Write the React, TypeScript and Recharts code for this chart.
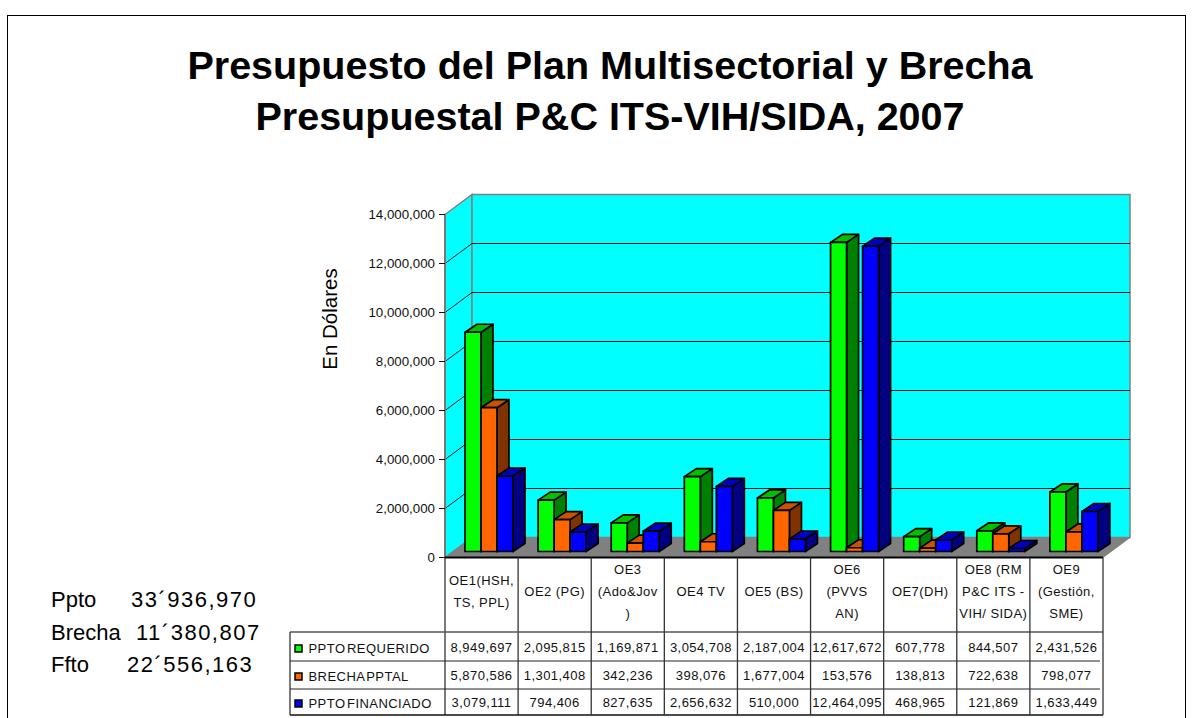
import React from 'react';
import { Bar, BarChart, CartesianGrid, XAxis, YAxis } from 'recharts';

const categories = ['OE1', 'OE2', 'OE3', 'OE4', 'OE5', 'OE6', 'OE7', 'OE8', 'OE9'];
const categoryLines = [
  ['OE1(HSH,', 'TS, PPL)'],
  ['OE2 (PG)'],
  ['OE3', '(Ado&Jov', ')'],
  ['OE4 TV'],
  ['OE5 (BS)'],
  ['OE6', '(PVVS', 'AN)'],
  ['OE7(DH)'],
  ['OE8 (RM', 'P&C ITS -', 'VIH/ SIDA)'],
  ['OE9', '(Gestión,', 'SME)'],
];
const requerido = [8949697, 2095815, 1169871, 3054708, 2187004, 12617672, 607778, 844507, 2431526];
const brecha = [5870586, 1301408, 342236, 398076, 1677004, 153576, 138813, 722638, 798077];
const financiado = [3079111, 794406, 827635, 2656632, 510000, 12464095, 468965, 121869, 1633449];
const yTicks = [0, 2000000, 4000000, 6000000, 8000000, 10000000, 12000000, 14000000];
const titleLines = ['Presupuesto del Plan Multisectorial y Brecha', 'Presupuestal P&C ITS-VIH/SIDA, 2007'];
const summary = [
  ['Ppto', '33´936,970', 80],
  ['Brecha', '11´380,807', 85],
  ['Ffto', '22´556,163', 76],
];

const series = [
  { key: 'requerido', name: 'PPTO REQUERIDO', values: requerido, front: '#00ff00', side: '#008000', top: '#00c000' },
  { key: 'brecha', name: 'BRECHA PPTAL', values: brecha, front: '#ff6600', side: '#803300', top: '#cc5200' },
  { key: 'financiado', name: 'PPTO FINANCIADO', values: financiado, front: '#0000ff', side: '#000080', top: '#0000c0' },
];

const chartData = categories.map((name, i) => ({
  name,
  requerido: requerido[i],
  brecha: brecha[i],
  financiado: financiado[i],
}));

// plot box of the front plane, the back wall sits DEPTH_X/DEPTH_Y behind it
const LEFT = 445;
const RIGHT = 1103;
const TOP = 214.5;
const BOTTOM = 557.5;
const DEPTH_X = 27;
const DEPTH_Y = 20;
const BAR_DX = 7;
const BAR_DY = 6;
const BAR_SIDE_X = 12;
const BAR_SIDE_Y = 8;

const rowY = [632, 661, 689, 715];
const TABLE_LEFT = 290;

const fmt = (v: number) => v.toLocaleString('en-US');

// painted under the chart so the grid and the bars land on top of it
const Room = () => (
  <svg width={1197} height={718} style={{ position: 'absolute', left: 0, top: 0 }}>
    <polygon points={`${LEFT},${TOP} ${LEFT + DEPTH_X},${TOP - DEPTH_Y} ${LEFT + DEPTH_X},${BOTTOM - DEPTH_Y} ${LEFT},${BOTTOM}`} fill="#00ffff" stroke="#808080" strokeWidth={1.5} />
    <rect x={LEFT + DEPTH_X} y={TOP - DEPTH_Y} width={RIGHT - LEFT} height={BOTTOM - TOP} fill="#00ffff" stroke="#808080" strokeWidth={1.5} />
    <polygon points={`${LEFT},${BOTTOM} ${LEFT + DEPTH_X},${BOTTOM - DEPTH_Y} ${RIGHT + DEPTH_X},${BOTTOM - DEPTH_Y} ${RIGHT},${BOTTOM}`} fill="#808080" stroke="#808080" />
  </svg>
);

const WallLine = (props: any) => {
  const { x1, x2, y1 } = props;
  if (y1 >= BOTTOM - 1 || y1 <= TOP + 1) return <g />;
  return (
    <polyline
      points={`${x1},${y1} ${x1 + DEPTH_X},${y1 - DEPTH_Y} ${x2 + DEPTH_X},${y1 - DEPTH_Y}`}
      fill="none"
      stroke="#111"
      strokeWidth={1}
    />
  );
};

const Bar3D = (props: any) => {
  const { x, y, width, height, front, side, top } = props;
  const l = x + BAR_DX;
  const t = y - BAR_DY;
  const r = l + width;
  const b = t + height;
  return (
    <g stroke="#000" strokeWidth={1.7} strokeLinejoin="round">
      <polygon points={`${r},${t} ${r + BAR_SIDE_X},${t - BAR_SIDE_Y} ${r + BAR_SIDE_X},${b - BAR_SIDE_Y} ${r},${b}`} fill={side} />
      <polygon points={`${l},${t} ${l + BAR_SIDE_X},${t - BAR_SIDE_Y} ${r + BAR_SIDE_X},${t - BAR_SIDE_Y} ${r},${t}`} fill={top} />
      <rect x={l} y={t} width={width} height={height} fill={front} />
    </g>
  );
};

const TableTick = (props: any) => {
  const { x, index } = props;
  const colW = (RIGHT - LEFT) / categories.length;
  const left = x - colW / 2;
  const lines = categoryLines[index];
  const startY = (BOTTOM + rowY[0]) / 2 - ((lines.length - 1) * 22) / 2 + 1.5;
  const textStyle = { fontFamily: '"Liberation Sans", Arial, sans-serif', fontSize: 13, letterSpacing: 0.45, fill: '#111' };
  return (
    <g>
      <line x1={left + colW} x2={left + colW} y1={BOTTOM} y2={rowY[3]} stroke="#333" strokeWidth={1.3} />
      {index === 0 && (
        <g>
          <line x1={left} x2={left} y1={BOTTOM} y2={rowY[3]} stroke="#333" strokeWidth={1.3} />
          <line x1={TABLE_LEFT} x2={TABLE_LEFT} y1={rowY[0]} y2={rowY[3]} stroke="#333" strokeWidth={1.3} />
          <line x1={TABLE_LEFT} x2={RIGHT} y1={rowY[0]} y2={rowY[0]} stroke="#555" strokeWidth={1.3} />
          <line x1={TABLE_LEFT} x2={RIGHT - 3} y1={rowY[1]} y2={rowY[1]} stroke="#222" strokeWidth={1} />
          <line x1={TABLE_LEFT} x2={RIGHT - 3} y1={rowY[2]} y2={rowY[2]} stroke="#222" strokeWidth={1} />
          <line x1={TABLE_LEFT} x2={RIGHT} y1={rowY[3]} y2={rowY[3]} stroke="#111" strokeWidth={1.3} />
          {series.map((s, r) => (
            <g key={s.key}>
              <rect x={295} y={rowY[r] + 13 - r} width={7} height={7} fill={s.front} stroke="#000" strokeWidth={1.5} />
              <text x={308.5} y={rowY[r] + 21 - r} textAnchor="start" style={{ ...textStyle, wordSpacing: -2.5 }}>{s.name}</text>
            </g>
          ))}
        </g>
      )}
      {lines.map((line, i) => (
        <text key={i} x={x} y={startY + i * 22} textAnchor="middle" style={textStyle}>{line}</text>
      ))}
      {series.map((s, r) => (
        <text key={s.key} x={x} y={rowY[r] + 20 - r} textAnchor="middle" style={textStyle}>{fmt(s.values[index])}</text>
      ))}
    </g>
  );
};

const App = () => (
  <div style={{ position: 'absolute', left: 0, top: 0, width: 1197, height: 718, overflow: 'hidden', background: '#fff', fontFamily: '"Liberation Sans", Arial, sans-serif' }}>
    <div style={{ position: 'absolute', left: 7, top: 15, width: 1177, height: 720, border: '1px solid #000' }} />
    {titleLines.map((line, i) => (
      <div key={line} style={{ position: 'absolute', left: 0, width: 1220, top: 42 + i * 51, textAlign: 'center', fontSize: 39.5, lineHeight: '46px', fontWeight: 700, color: '#000', whiteSpace: 'nowrap' }}>
        {line}
      </div>
    ))}
    {summary.map(([label, value, offset], i) => (
      <div key={label as string} style={{ position: 'absolute', left: 51, top: 587 + i * 32.5, width: 215, fontSize: 22, lineHeight: '26px', color: '#000', whiteSpace: 'nowrap' }}>
        <span>{label}</span>
        <span style={{ position: 'absolute', left: offset as number, letterSpacing: 1.5 }}>{value}</span>
      </div>
    ))}
    <div style={{ position: 'absolute', left: 330, top: 319, fontSize: 20.5, lineHeight: '22px', color: '#000', whiteSpace: 'nowrap', transform: 'translate(-50%, -50%) rotate(-90deg)' }}>
      En Dólares
    </div>
    <Room />
    <div style={{ position: 'absolute', left: 0, top: 0 }}>
      <BarChart
        width={1197}
        height={718}
        data={chartData}
        margin={{ top: TOP, right: 1197 - RIGHT, bottom: 0, left: 0 }}
        barSize={16}
        barGap={0}
      >
        <CartesianGrid vertical={false} horizontal={(p: any) => <WallLine key={p.key} {...p} />} />
        <YAxis
          width={LEFT}
          domain={[0, 14000000]}
          ticks={yTicks}
          interval={0}
          tickFormatter={fmt}
          tickSize={6}
          tickMargin={4}
          axisLine={{ stroke: '#777', strokeWidth: 2 }}
          tickLine={{ stroke: '#111', strokeWidth: 1 }}
          tick={{ fill: '#111', fontSize: 13.3, fontFamily: '"Liberation Sans", Arial, sans-serif' }}
        />
        <XAxis
          dataKey="name"
          height={718 - BOTTOM}
          interval={0}
          tickLine={false}
          axisLine={{ stroke: '#000', strokeWidth: 2 }}
          tick={<TableTick />}
        />
        {series.map((s) => (
          <Bar
            key={s.key}
            dataKey={s.key}
            name={s.name}
            isAnimationActive={false}
            shape={(p: any) => <Bar3D {...p} front={s.front} side={s.side} top={s.top} />}
          />
        ))}
      </BarChart>
    </div>
  </div>
);

export default App;
